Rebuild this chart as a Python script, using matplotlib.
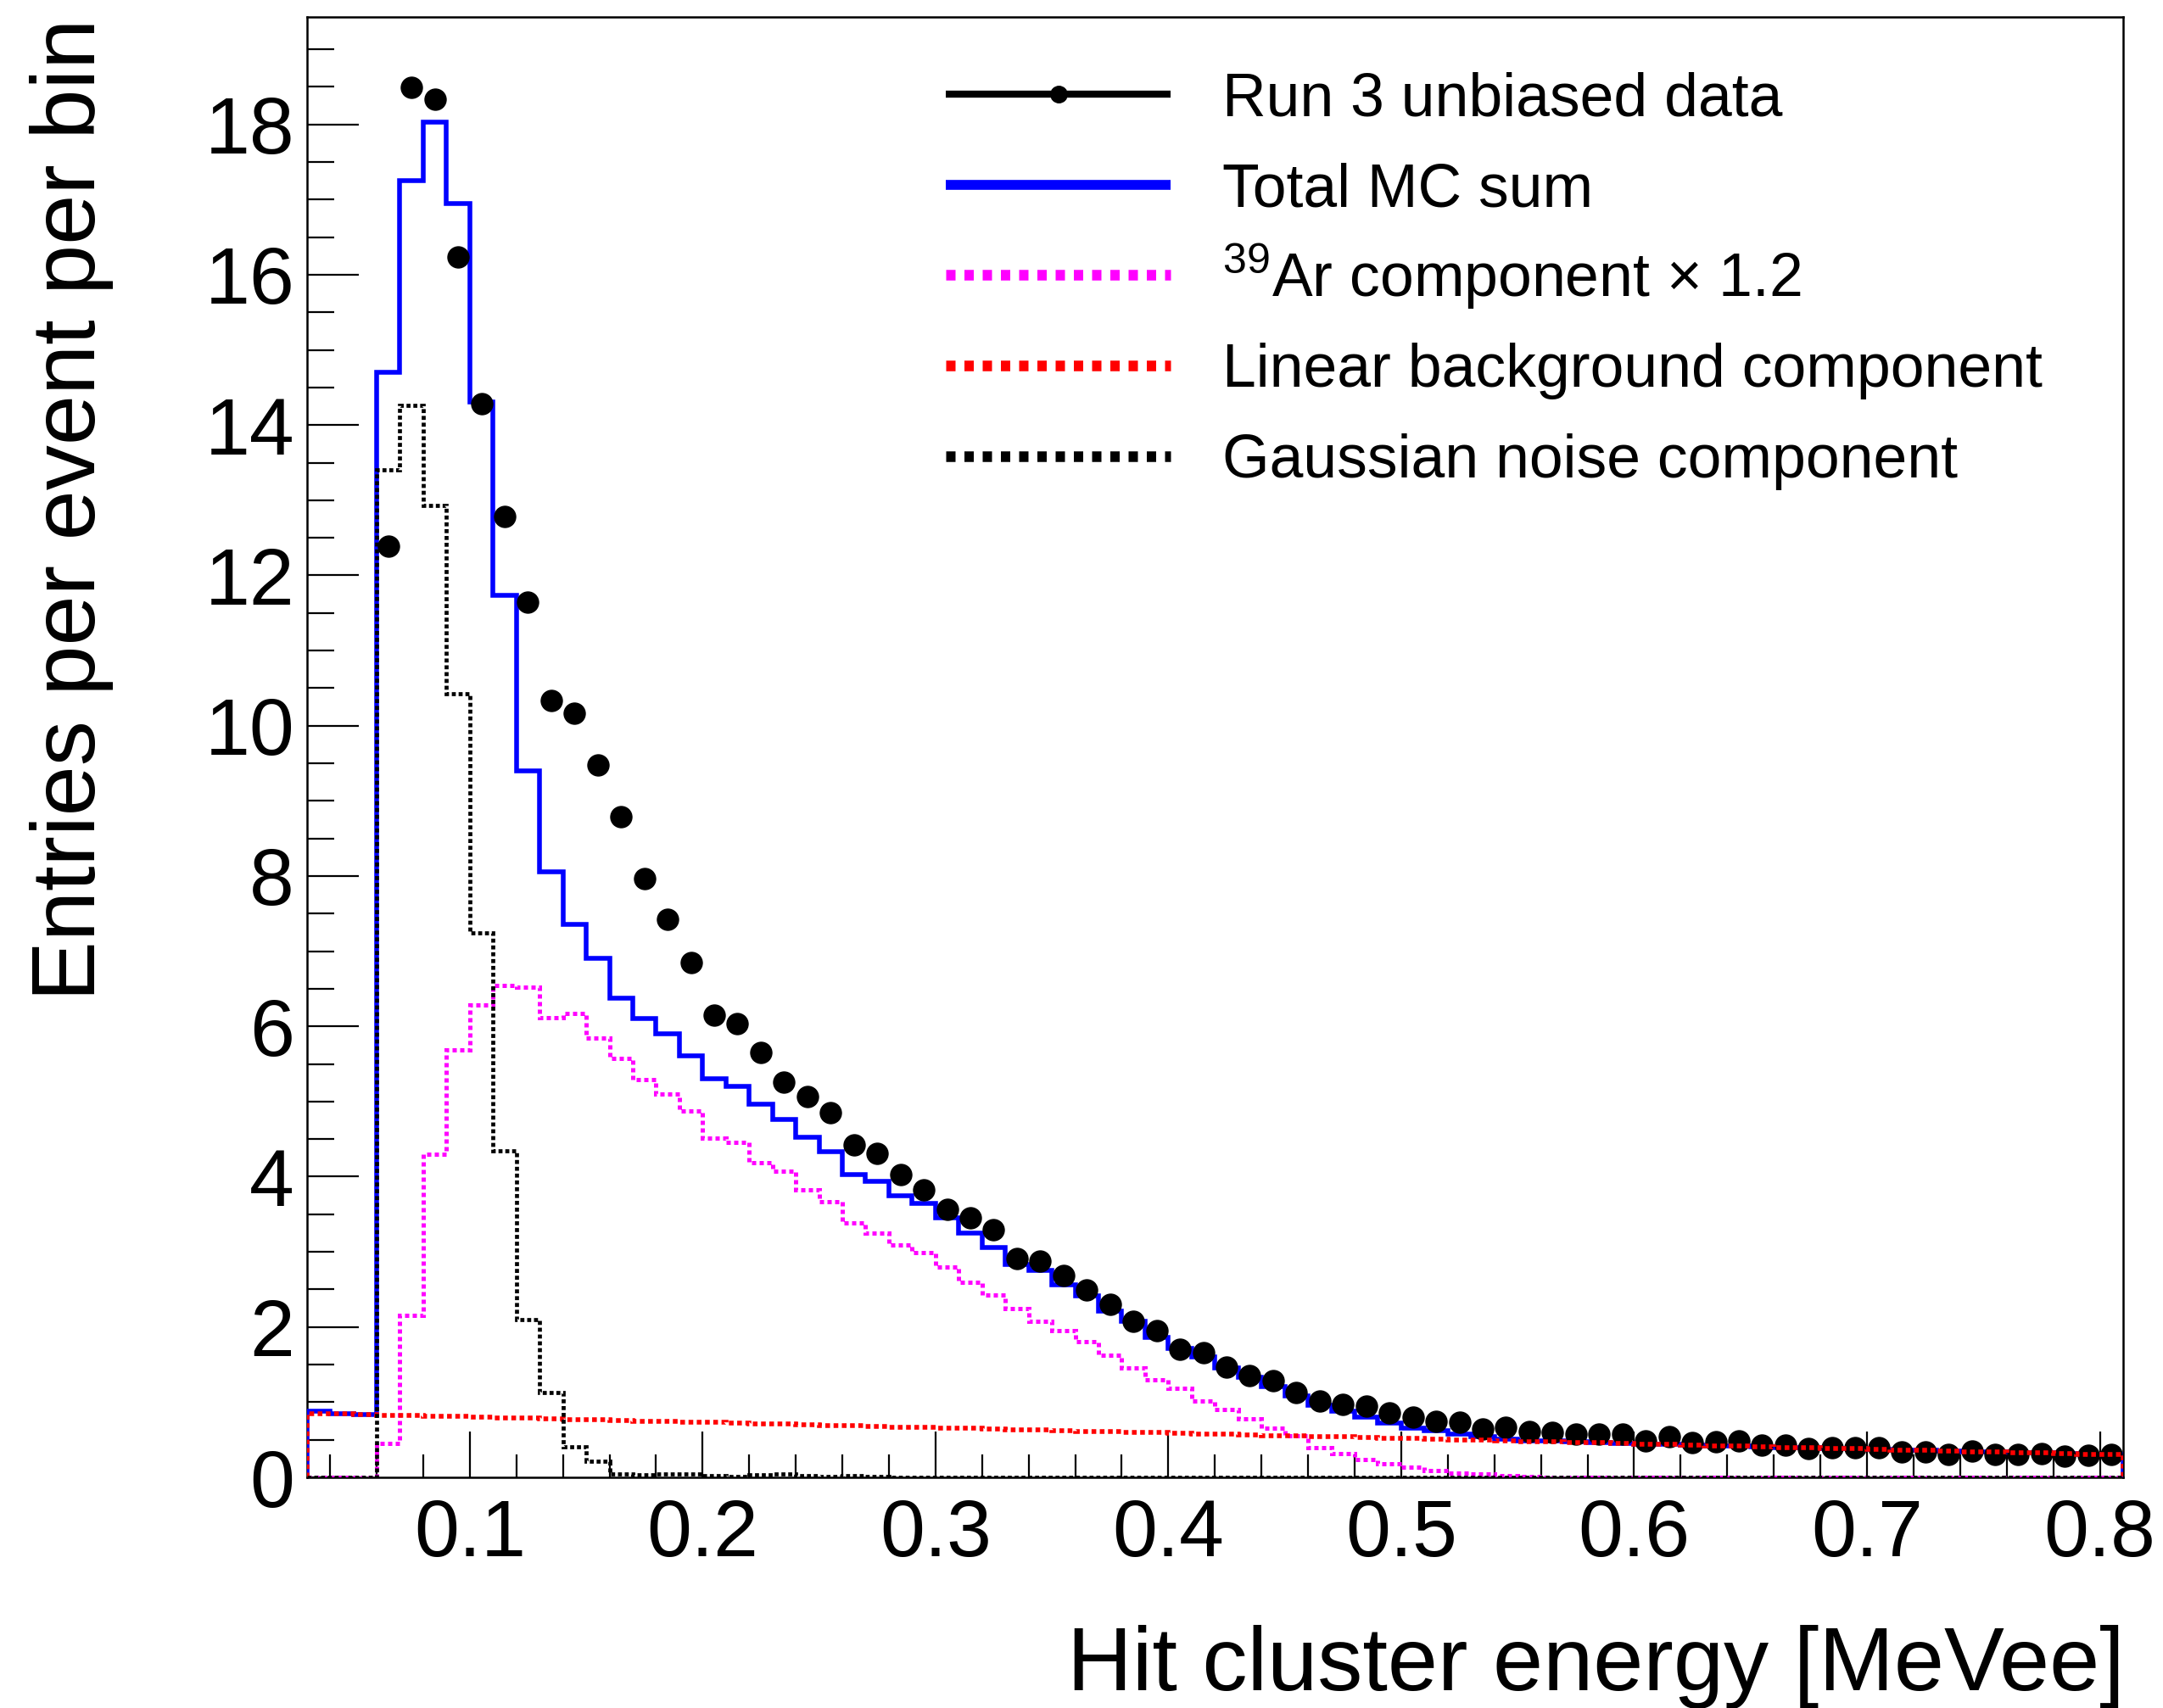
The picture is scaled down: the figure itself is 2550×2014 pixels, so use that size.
import numpy as np
import matplotlib
matplotlib.use('Agg')
import matplotlib.pyplot as plt
from matplotlib.lines import Line2D
from matplotlib.ticker import MultipleLocator

plt.rcParams['font.family'] = ['Liberation Sans', 'DejaVu Sans']
plt.rcParams['mathtext.fontset'] = 'custom'
plt.rcParams['mathtext.rm'] = 'Liberation Sans'
plt.rcParams['mathtext.it'] = 'Liberation Sans:italic'
plt.rcParams['mathtext.bf'] = 'Liberation Sans:bold'

# ---------------- data (bins of 0.01 MeVee from 0.03 to 0.81) ----------------
bin_edges = np.round(np.arange(0.03, 0.8101, 0.01), 2)

total_mc = [0.88, 0.85, 0.84,
            14.70, 17.25, 18.03, 16.95, 14.31, 11.74, 9.40, 8.06, 7.36, 6.90,
            6.37, 6.10, 5.90, 5.61, 5.30, 5.20, 4.97, 4.76, 4.53, 4.33,
            4.03, 3.94, 3.75, 3.64, 3.45, 3.25, 3.06, 2.83, 2.75, 2.56,
            2.41, 2.21, 2.08, 1.86, 1.72, 1.60, 1.46, 1.33, 1.21, 1.08,
            0.96, 0.88, 0.80, 0.72, 0.66, 0.62, 0.57, 0.54, 0.51, 0.49,
            0.48, 0.47, 0.46,
            0.450, 0.443, 0.436, 0.429, 0.422, 0.414, 0.407, 0.400, 0.393, 0.386,
            0.379, 0.372, 0.364, 0.357, 0.350, 0.343, 0.336, 0.329, 0.322, 0.314,
            0.307, 0.300]

ar39_x1p2 = [0.0, 0.0, 0.0,
             0.45, 2.16, 4.30, 5.69, 6.29, 6.54, 6.52, 6.11, 6.17, 5.85,
             5.57, 5.29, 5.10, 4.87, 4.51, 4.46, 4.19, 4.07, 3.83, 3.67,
             3.38, 3.25, 3.09, 2.99, 2.80, 2.60, 2.43, 2.25, 2.08, 1.95,
             1.80, 1.62, 1.45, 1.30, 1.18, 1.02, 0.90, 0.78, 0.66, 0.55,
             0.40, 0.32, 0.24, 0.18, 0.13, 0.09, 0.06, 0.04, 0.02, 0.01] + [0.0] * 25

linear_bg = [0.850, 0.843, 0.836, 0.829, 0.821, 0.814, 0.807, 0.800, 0.793, 0.786,
             0.779, 0.771, 0.764, 0.757, 0.750, 0.743, 0.736, 0.729, 0.721, 0.714,
             0.707, 0.700, 0.693, 0.686, 0.679, 0.671, 0.664, 0.657, 0.650, 0.643,
             0.636, 0.629, 0.622, 0.614, 0.607, 0.600, 0.593, 0.586, 0.579, 0.572,
             0.564, 0.557, 0.550, 0.543, 0.536, 0.529, 0.522, 0.514, 0.507, 0.500,
             0.493, 0.486, 0.479, 0.472, 0.464, 0.457, 0.450, 0.443, 0.436, 0.429,
             0.422, 0.414, 0.407, 0.400, 0.393, 0.386, 0.379, 0.372, 0.364, 0.357,
             0.350, 0.343, 0.336, 0.329, 0.322, 0.314, 0.307, 0.300]

gauss_noise = [0.0, 0.0, 0.0,
               13.41, 14.26, 12.93, 10.43, 7.24, 4.34, 2.10, 1.13, 0.41, 0.21,
               0.05, 0.03, 0.04, 0.05, 0.02, 0.01, 0.03, 0.04, 0.02, 0.01,
               0.02, 0.01] + [0.0] * 53

data_start = 0.06   # first non-empty data bin edge
run3_data = [12.39, 18.49, 18.33, 16.24, 14.29, 12.78, 11.64, 10.33, 10.17, 9.48,
             8.79, 7.97, 7.42, 6.85, 6.15, 6.04, 5.65, 5.26, 5.07, 4.85,
             4.42, 4.31, 4.03, 3.83, 3.57, 3.45, 3.30, 2.91, 2.88, 2.68,
             2.49, 2.30, 2.08, 1.95, 1.70, 1.66, 1.47, 1.35, 1.29, 1.13,
             1.02, 0.97, 0.95, 0.86, 0.80, 0.74, 0.73, 0.64, 0.67, 0.61,
             0.60, 0.58, 0.57, 0.58, 0.49, 0.54, 0.46, 0.47, 0.48, 0.43,
             0.43, 0.38, 0.39, 0.40, 0.40, 0.34, 0.34, 0.30, 0.35, 0.30,
             0.31, 0.32, 0.28, 0.29, 0.30]

labels = ["Run 3 unbiased data", "Total MC sum",
          r"$^{39}$Ar component $\times$ 1.2",
          "Linear background component", "Gaussian noise component"]
x_title = "Hit cluster energy [MeVee]"
y_title = "Entries per event per bin"

# ---------------- figure ----------------
W, H = 2550, 2014
fig = plt.figure(figsize=(W / 100, H / 100), dpi=100)
ax = fig.add_axes([361.6 / W, 1 - 1742 / H, (2503 - 361.6) / W, (1742 - 20) / H])

centers = 0.5 * (bin_edges[:-1] + bin_edges[1:])
data_x = centers[centers > data_start][:len(run3_data)]

ax.stairs(total_mc, bin_edges, color='#0000ff', lw=4.0, zorder=3)
ax.plot(data_x, run3_data, 'o', color='black', ms=18, zorder=3.5)
ax.stairs(ar39_x1p2, bin_edges, color='#ff00ff', lw=3.6, ls=(0, (1, 0.8)), zorder=4)
ax.stairs(linear_bg, bin_edges, color='#ff0000', lw=4.0, ls=(0, (1, 0.75)), zorder=5)
ax.stairs(gauss_noise, bin_edges, color='black', lw=3.4, ls=(0, (1, 0.7)), zorder=6)

ax.set_xlim(0.03, 0.81)
ax.set_ylim(0, 19.43)

ax.xaxis.set_major_locator(MultipleLocator(0.1))
ax.xaxis.set_minor_locator(MultipleLocator(0.02))
ax.yaxis.set_major_locator(MultipleLocator(2))
ax.yaxis.set_minor_locator(MultipleLocator(0.5))
ax.xaxis.set_major_formatter(plt.FuncFormatter(lambda v, p: f"{v:.1f}"))
ax.yaxis.set_major_formatter(plt.FuncFormatter(lambda v, p: f"{v:.0f}"))

ax.tick_params(which='both', direction='in', top=False, right=False, width=1.6,
               labelsize=68.4)
ax.tick_params(axis='y', which='major', length=44, pad=10.5)
ax.tick_params(axis='y', which='minor', length=23)
ax.tick_params(axis='x', which='major', length=39, pad=17.5)
ax.tick_params(axis='x', which='minor', length=19.5)
for sp in ax.spines.values():
    sp.set_linewidth(1.8)

fig.text(2505 / W, 1 - 1992.7 / H, x_title, ha='right', va='baseline', fontsize=76.5)
fig.text(111.7 / W, 1 - 21.7 / H, y_title, rotation=90, rotation_mode='anchor',
         ha='right', va='baseline', fontsize=76.5)

# ---------------- legend (drawn entry by entry, ROOT-style) ----------------
leg_styles = [
    dict(color='black', lw=6, marker='o', ms=14, markevery=[1]),
    dict(color='#0000ff', lw=8.4),
    dict(color='#ff00ff', lw=9, ls=(0, (0.88, 0.84))),
    dict(color='#ff0000', lw=9, ls=(0, (0.88, 0.84))),
    dict(color='black', lw=9, ls=(0, (0.88, 0.84))),
]
row_y = [111.4, 217.7, 324.4, 430.7, 537.7]   # row centres in pixels from top
x0, x1, xt = 1115 / W, 1380 / W, 1441 / W
for lab, st, yy in zip(labels, leg_styles, row_y):
    yf = 1 - yy / H
    fig.add_artist(Line2D([x0, 0.5 * (x0 + x1), x1], [yf, yf, yf],
                          transform=fig.transFigure, solid_capstyle='butt', **st))
    fig.text(xt, 1 - (yy + 25.5) / H, lab, ha='left', va='baseline', fontsize=51.5)

fig.savefig('out.png', dpi=100)
